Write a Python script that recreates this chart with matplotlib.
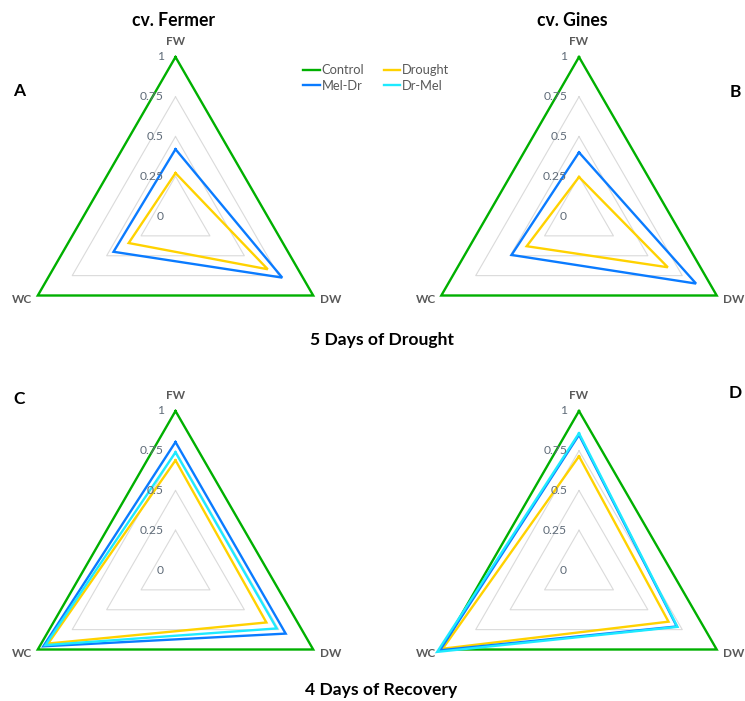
import numpy as np
import matplotlib
matplotlib.use("Agg")
import matplotlib.pyplot as plt
from matplotlib.lines import Line2D

plt.rcParams['font.family'] = ['Lato', 'DejaVu Sans']

# ---- data -------------------------------------------------------------
axes_labels = ["FW", "DW", "WC"]
ticks = [0, 0.25, 0.5, 0.75, 1]
tick_labels = ["0", "0.25", "0.5", "0.75", "1"]

series_names = ["Control", "Drought", "Mel-Dr", "Dr-Mel"]

# panel A: cv. Fermer, 5 days of drought
a_control = [1.0, 1.0, 1.0]
a_drought = [0.27, 0.67, 0.34]
a_meldr = [0.42, 0.775, 0.45]

# panel B: cv. Gines, 5 days of drought
b_control = [1.0, 1.0, 1.0]
b_drought = [0.245, 0.645, 0.38]
b_meldr = [0.40, 0.85, 0.49]

# panel C: cv. Fermer, 4 days of recovery
c_control = [1.0, 1.0, 1.0]
c_drought = [0.69, 0.66, 0.925]
c_meldr = [0.805, 0.80, 0.96]
c_drmel = [0.74, 0.735, 0.945]

# panel D: cv. Gines, 4 days of recovery
d_control = [1.0, 1.0, 1.0]
d_drought = [0.715, 0.65, 0.99]
d_meldr = [0.85, 0.71, 1.01]
d_drmel = [0.86, 0.715, 1.03]

colors = {"Control": "#00B000", "Drought": "#FFD200",
          "Mel-Dr": "#0A7BFF", "Dr-Mel": "#1EEAFF"}

# ---- layout -----------------------------------------------------------
W, H = 745, 701
R = 159.0  # radius in pixels
fig = plt.figure(figsize=(W / 100, H / 100), dpi=100)

angles = np.deg2rad([90, -30, 210])
XL = (-1.15, 1.15)
YL = (-0.62, 1.12)


def to_xy(vals):
    v = np.asarray(vals + vals[:1], dtype=float)
    a = np.concatenate([angles, angles[:1]])
    return v * np.cos(a), v * np.sin(a)


def radar(cx, cy, data):
    left = cx + XL[0] * R
    bottom = cy - YL[0] * R
    ax = fig.add_axes([left / W, 1 - bottom / H,
                       (XL[1] - XL[0]) * R / W, (YL[1] - YL[0]) * R / H])
    ax.set_xlim(*XL)
    ax.set_ylim(*YL)
    ax.axis("off")
    # triangular grid
    for t in ticks[1:]:
        x, y = to_xy([t, t, t])
        ax.plot(x, y, color="#DADADA", lw=0.8, zorder=1)
    # radial tick labels along the FW spoke
    for t, lab in zip(ticks, tick_labels):
        ax.text(-0.075, t, lab, ha="right", va="center", fontsize=8.7,
                color="#5F6B78", zorder=5)
    # category labels
    ax.text(0, 1.095, axes_labels[0], ha="center", va="center",
            fontsize=8.5, fontweight="bold", color="#595959")
    dx, dy = np.cos(angles[1]), np.sin(angles[1])
    ax.text(dx + 0.04, dy - 0.025, axes_labels[1], ha="left", va="center",
            fontsize=8.5, fontweight="bold", color="#595959")
    dx, dy = np.cos(angles[2]), np.sin(angles[2])
    ax.text(dx - 0.035, dy - 0.025, axes_labels[2], ha="right", va="center",
            fontsize=8.5, fontweight="bold", color="#595959")
    for name, vals in data:
        x, y = to_xy(vals)
        ax.plot(x, y, color=colors[name], lw=1.7, zorder=3,
                solid_joinstyle="miter")
    return ax


radar(175.5, 216, [("Control", a_control), ("Drought", a_drought),
                   ("Mel-Dr", a_meldr)])
radar(579, 216, [("Control", b_control), ("Drought", b_drought),
                 ("Mel-Dr", b_meldr)])
radar(175.5, 570, [("Control", c_control), ("Drought", c_drought),
                   ("Mel-Dr", c_meldr), ("Dr-Mel", c_drmel)])
radar(579, 570, [("Control", d_control), ("Drought", d_drought),
                 ("Mel-Dr", d_meldr), ("Dr-Mel", d_drmel)])


def ftext(x, y, s, **kw):
    fig.text(x / W, 1 - y / H, s, **kw)


ftext(173, 20, "cv. Fermer", ha="center", va="center", fontsize=12.7,
      fontweight="bold", color="black")
ftext(572, 20, "cv. Gines", ha="center", va="center", fontsize=12.7,
      fontweight="bold", color="black")
ftext(382, 340, "5 Days of Drought", ha="center", va="center",
      fontsize=12.6, fontweight="bold", color="black")
ftext(381, 690, "4 Days of Recovery", ha="center", va="center",
      fontsize=12.6, fontweight="bold", color="black")
for px, py, s in [(19, 91, "A"), (735, 92, "B"), (19, 399, "C"), (735, 393, "D")]:
    ftext(px, py, s, ha="center", va="center", fontsize=12.5,
          fontweight="bold", color="black")

# legend (column-major fill with two columns)
order = ["Control", "Mel-Dr", "Drought", "Dr-Mel"]
handles = [Line2D([], [], color=colors[n], lw=1.7) for n in order]
fig.legend(handles, order, ncol=2, loc="center left",
           bbox_to_anchor=(297 / W, 1 - 78 / H), frameon=False,
           fontsize=9.3, handlelength=1.3, handletextpad=0.1,
           columnspacing=1.5, labelspacing=0.3, borderpad=0,
           labelcolor="#595959")

fig.savefig("out.png", dpi=100, facecolor="white")
